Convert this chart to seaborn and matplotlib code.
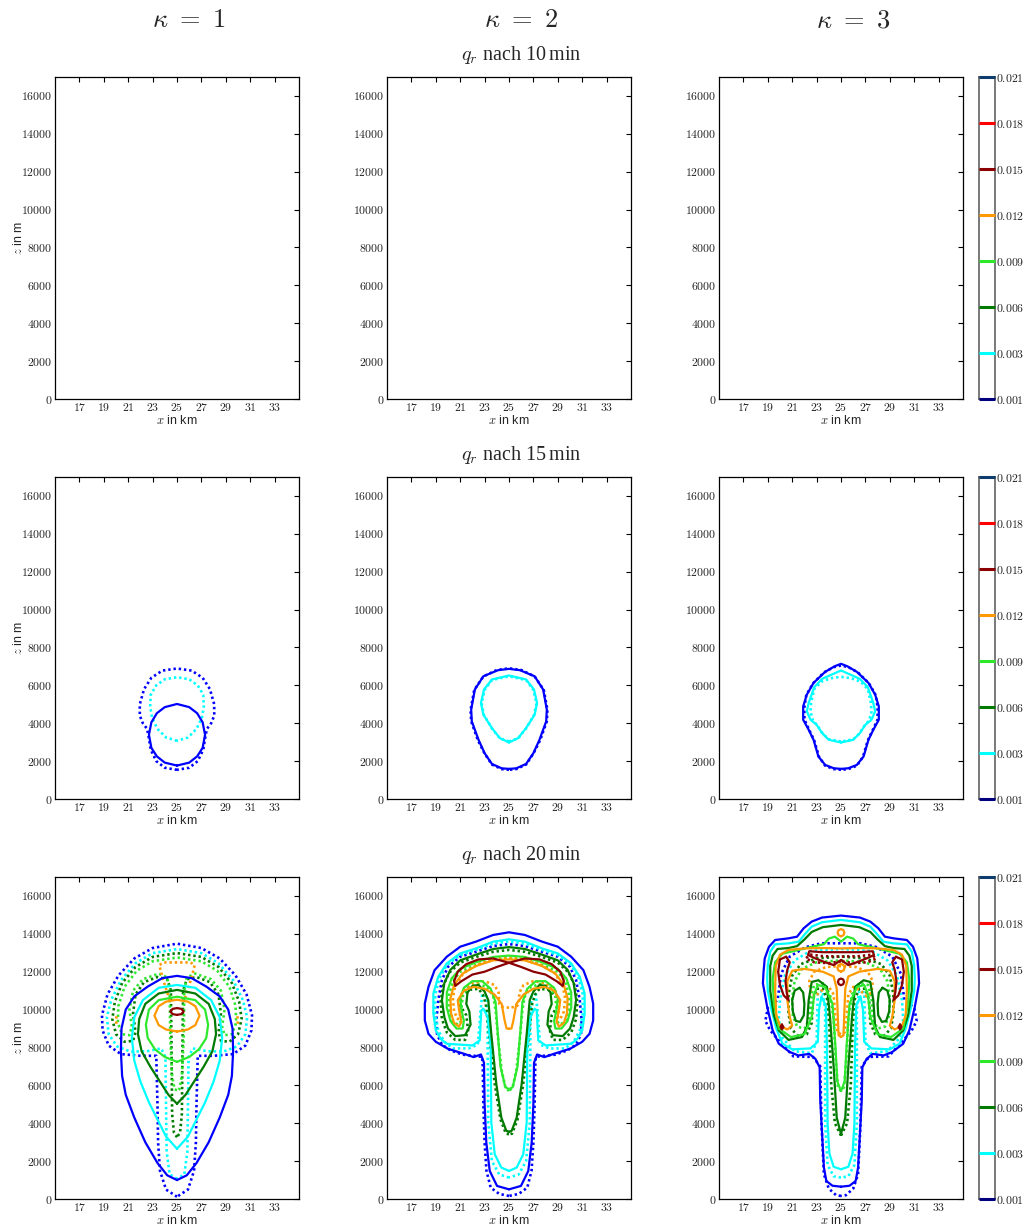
import numpy as np
import pandas as pd
import matplotlib
matplotlib.use("Agg")
import matplotlib.pyplot as plt
import seaborn as sns

# ---------------------------------------------------------------- data
LEVELS = [0.001, 0.003, 0.006, 0.009, 0.012, 0.015, 0.018, 0.021]
LEVEL_COLORS = ['#0000ff', '#00ffff', '#007a00', '#2ee82e', '#ff9900', '#8b0000', '#ff0000', '#13294b']
CBAR_COLORS = ['#00007f', '#00ffff', '#007a00', '#2ee82e', '#ff9900', '#8b0000', '#ff0000', '#0d3d6e']
KAPPAS = [1, 2, 3]
MINUTES = [10, 15, 20]
X_TICKS = [17, 19, 21, 23, 25, 27, 29, 31, 33]
Y_TICKS = [0, 2000, 4000, 6000, 8000, 10000, 12000, 14000, 16000]
X_RANGE = (15, 35)
Z_RANGE = (0, 17000)
CENTER_X = 25

# contour outlines: (offset from x=25 in km, z in m)
# ---- 15 min, kappa = 1
K1_15_SOLID_BLUE = [(0, 5017), (1.0, 4850), (1.65, 4530), (2.1, 4050), (2.3, 3390), (2.1, 2700), (1.65, 2250), (1.0, 1920), (0, 1766)]
K1_15_DOT_CYAN = [(0, 6430), (1.0, 6320), (1.7, 6000), (2.15, 5500), (2.2, 4900), (2.05, 4300), (1.6, 3700), (0.9, 3250), (0, 3070)]
K1_15_DOT_BLUE = [(0, 6890), (1.2, 6780), (2.1, 6400), (2.7, 5800), (3.05, 5000), (3.05, 4400), (2.8, 4000), (2.45, 3700), (2.3, 3200), (2.15, 2600), (1.7, 2000), (1.0, 1650), (0, 1540)]
# ---- 15 min, kappa = 2
K2_15_SOLID_BLUE = [(0, 6870), (0.9, 6800), (2.1, 6480), (2.8, 5780), (3.1, 4720), (3.05, 4100), (2.5, 3130), (2.0, 2420), (1.4, 1850), (0.6, 1620), (0, 1590)]
K2_15_DOT_BLUE = [(0, 6900), (1.0, 6810), (2.1, 6470), (2.85, 5760), (3.15, 4700), (3.1, 4100), (2.55, 3100), (2.0, 2400), (1.4, 1820), (0.6, 1580), (0, 1540)]
K2_15_SOLID_CYAN = [(0, 6520), (1.4, 6310), (2.05, 5780), (2.3, 5070), (2.1, 4450), (1.4, 3745), (0.75, 3215), (0, 2985)]
K2_15_DOT_CYAN = [(0, 6480), (1.4, 6280), (2.0, 5760), (2.25, 5050), (2.05, 4430), (1.4, 3730), (0.75, 3200), (0, 3040)]
# ---- 15 min, kappa = 3
K3_15_SOLID_BLUE = [(0, 7137), (0.5, 7013), (1.3, 6713), (2.25, 6130), (2.8, 5510), (3.1, 4893), (3.1, 4186), (2.65, 3656), (2.25, 3126), (1.85, 2243), (1.3, 1800), (0.6, 1624), (0, 1590)]
K3_15_DOT_BLUE = [(0, 7050), (0.6, 6960), (1.4, 6680), (2.3, 6100), (2.85, 5480), (3.0, 4850), (3.0, 4200), (2.6, 3640), (2.2, 3100), (1.8, 2220), (1.3, 1760), (0.6, 1580), (0, 1540)]
K3_15_SOLID_CYAN = [(0, 6784), (0.75, 6572), (1.55, 6342), (2.2, 5900), (2.65, 5070), (2.8, 4627), (2.5, 4186), (2.0, 3921), (1.55, 3480), (1.0, 3126), (0, 2985)]
K3_15_DOT_CYAN = [(0, 6450), (0.8, 6380), (1.6, 6200), (2.2, 5800), (2.45, 5070), (2.5, 4600), (2.3, 4150), (1.9, 3850), (1.5, 3450), (1.0, 3150), (0, 3030)]

# ---- 20 min, kappa = 1
K1_20_SOLID_BLUE = [(0, 11780), (1.2, 11660), (2.4, 11215), (3.5, 10700), (4.2, 10000), (4.55, 9000), (4.6, 7800), (4.5, 6500), (4.2, 5500), (3.5, 4300), (2.6, 3000), (1.6, 1900), (0.8, 1250), (0, 1000)]
K1_20_SOLID_CYAN = [(0, 11300), (1.5, 11150), (2.8, 10500), (3.5, 9600), (3.7, 8500), (3.5, 7300), (3.0, 6200), (2.3, 5100), (1.6, 4200), (0.9, 3300), (0, 2650)]
K1_20_SOLID_DKGREEN = [(0, 11040), (1.5, 10850), (2.6, 10300), (3.1, 9500), (3.2, 8700), (2.9, 7800), (2.2, 7000), (1.4, 6200), (0.7, 5500), (0, 5030)]
K1_20_SOLID_LIME = [(0, 10680), (1.5, 10500), (2.3, 10000), (2.55, 9200), (2.4, 8500), (1.8, 7900), (1.0, 7500), (0, 7240)]
K1_20_SOLID_ORANGE = [(0, 10520), (0.9, 10420), (1.5, 10180), (1.85, 9680), (1.5, 9180), (0.9, 8950), (0, 8840)]
K1_20_SOLID_DKRED = [(0, 10080), (0.35, 10040), (0.55, 9900), (0.35, 9760), (0, 9720)]
K1_20_DOT_BLUE = [(0, 13480), (2.0, 13250), (3.5, 12700), (4.8, 11800), (5.7, 10800), (6.15, 9700), (6.1, 8900), (5.6, 8100), (4.6, 7650), (3.0, 7560), (1.7, 7560), (1.6, 5000), (1.55, 3000), (1.4, 1500), (0.9, 500), (0, 120)]
K1_20_DOT_CYAN = [(0, 13195), (2.0, 12980), (3.4, 12450), (4.6, 11550), (5.4, 10500), (5.75, 9600), (5.6, 8700), (4.9, 8050), (3.8, 7780), (2.5, 7800), (1.3, 7950), (0.95, 7500), (0.9, 5000), (0.85, 2500), (0.6, 1300), (0, 1060)]
K1_20_DOT_DKGREEN = [(0, 12983), (2.0, 12780), (3.4, 12250), (4.5, 11400), (5.1, 10400), (5.3, 9500), (5.0, 8700), (4.3, 8300), (3.6, 8350), (3.4, 8800), (3.6, 9800), (3.4, 10800), (2.7, 11450), (1.6, 11720), (0.8, 11600), (0.5, 11000), (0.45, 8000), (0.4, 4500), (0.25, 3500), (0, 3260)]
K1_20_DOT_LIME = [(0, 12750), (2.0, 12550), (3.3, 12050), (4.3, 11200), (4.8, 10200), (4.85, 9300), (4.5, 8700), (3.9, 8650), (3.7, 9100), (3.9, 10000), (3.6, 11000), (2.8, 11600), (1.5, 11900), (0.8, 11700), (0.6, 11000), (0.55, 8500), (0.4, 6500), (0.2, 5800), (0, 5740)]
K1_20_DOT_ORANGE = [(0, 12490), (1.1, 12490), (1.45, 12350), (1.2, 11700), (0.85, 11000), (0.6, 10500)]
K1_20_DOT_ORANGE_SIDE = [(4.95, 9650), (5.0, 9420), (4.95, 9200)]

# ---- 20 min, kappa = 2
K2_20_SOLID_BLUE = [(0, 14080), (1.3, 13940), (2.7, 13590), (4.0, 13320), (5.1, 12790), (6.1, 12080), (6.6, 11200), (6.9, 10320), (6.9, 9430), (6.6, 8720), (6.0, 8300), (5.0, 7930), (3.7, 7670), (2.9, 7490), (2.3, 7630), (2.05, 7190), (2.0, 5020), (1.86, 2980), (1.58, 1480), (0.98, 690), (0, 510)]
K2_20_SOLID_CYAN = [(0, 13710), (1.3, 13586), (2.7, 13230), (4.0, 12967), (5.1, 12437), (5.8, 11730), (6.2, 10850), (6.2, 9786), (6.0, 8900), (5.6, 8450), (5.1, 8196), (3.0, 8108), (2.4, 8373), (2.27, 9963), (2.1, 10050), (1.75, 9610), (1.5, 8020), (1.45, 4044), (1.17, 2365), (0.63, 1660), (0, 1480)]
K2_20_SOLID_DKGREEN = [(0, 13300), (1.3, 13200), (2.7, 12900), (4.0, 12600), (4.8, 12100), (5.3, 11400), (5.5, 10500), (5.3, 9600), (5.0, 9000), (4.4, 8600), (3.6, 8650), (3.15, 9200), (3.25, 9900), (3.5, 10300), (3.4, 10900), (3.0, 11250), (2.5, 11300), (2.0, 10950), (1.7, 10500), (1.45, 8700), (1.04, 6075), (0.63, 4300), (0.22, 3600), (0, 3550)]
K2_20_SOLID_LIME = [(0, 12850), (1.3, 12780), (2.7, 12500), (4.0, 12150), (4.7, 11650), (5.1, 10900), (5.1, 10100), (4.8, 9400), (4.3, 9000), (3.8, 9000), (3.7, 9400), (3.9, 10000), (4.0, 10600), (3.7, 11150), (3.0, 11500), (2.2, 11500), (1.5, 11100), (1.1, 10400), (0.95, 9000), (0.7, 7000), (0.3, 5900), (0, 5800)]
K2_20_SOLID_ORANGE = [(0, 12650), (1.3, 12600), (2.7, 12300), (3.8, 11900), (4.5, 11300), (4.8, 10600), (4.75, 9800), (4.5, 9300), (4.1, 9100), (3.9, 9350), (4.1, 10000), (4.2, 10500), (3.7, 11000), (2.9, 11200), (2.0, 11100), (1.2, 10800), (0.6, 10300), (0.35, 9400), (0.2, 9000), (0, 8990)]
K2_20_SOLID_DKRED = [(0, 12470), (1.3, 12700), (2.5, 12650), (3.5, 12400), (4.2, 12000), (4.5, 11500), (4.4, 11250), (3.9, 11500), (3.0, 11850), (2.0, 12000), (1.0, 12250), (0, 12470)]
K2_20_DOT_BLUE = [(0, 13460), (1.3, 13356), (2.7, 13055), (4.0, 12790), (5.0, 12260), (5.5, 11553), (5.8, 10493), (5.95, 9433), (5.9, 8700), (5.5, 8150), (4.8, 7850), (3.8, 7620), (2.7, 7550), (2.2, 7500), (2.15, 7000), (2.1, 5000), (2.0, 3000), (1.85, 1500), (1.5, 600), (0.8, 270), (0, 160)]
K2_20_DOT_CYAN = [(0, 13600), (1.3, 13480), (2.7, 13150), (4.0, 12880), (5.1, 12350), (5.7, 11650), (6.05, 10800), (6.05, 9800), (5.8, 8900), (5.3, 8300), (4.6, 7950), (3.3, 7950), (2.55, 8150), (2.35, 9800), (2.2, 10800), (1.85, 10700), (1.75, 9800), (1.75, 8000), (1.7, 4000), (1.4, 2000), (0.8, 1300), (0, 1130)]
K2_20_DOT_DKGREEN = [(0, 13150), (1.3, 13050), (2.7, 12780), (4.0, 12480), (4.9, 11950), (5.4, 11250), (5.6, 10400), (5.5, 9500), (5.1, 8800), (4.4, 8400), (3.6, 8400), (3.35, 8900), (3.5, 9700), (4.0, 10200), (3.9, 10700), (3.2, 11050), (2.5, 11100), (2.15, 10800), (1.9, 10300), (1.6, 8500), (1.15, 6000), (0.7, 4200), (0.25, 3450), (0, 3420)]
K2_20_DOT_LIME = [(0, 12700), (1.3, 12620), (2.7, 12350), (4.0, 12000), (4.6, 11500), (4.9, 10800), (4.9, 10000), (4.6, 9400), (4.2, 9200), (3.9, 9400), (3.9, 10000), (3.8, 10700), (3.4, 11150), (2.6, 11350), (1.8, 11200), (1.3, 10700), (1.1, 10000), (0.9, 8500), (0.6, 6800), (0.3, 5900), (0, 5700)]
K2_20_DOT_ORANGE = [(0, 12750), (1.0, 12700), (2.5, 12400), (3.7, 11950), (4.4, 11300), (4.6, 10600), (4.5, 9900), (4.2, 9500), (4.0, 9600), (4.1, 10300), (3.8, 11000), (3.0, 11400), (2.0, 11500), (1.2, 11300), (0.85, 10900), (0.8, 10300), (0.6, 10150), (0, 10100)]

# ---- 20 min, kappa = 3
K3_20_SOLID_BLUE = [(0, 14964), (1.56, 14858), (2.4, 14646), (3.06, 14292), (3.6, 13850), (4.3, 13762), (5.4, 13674), (5.9, 13320), (6.25, 12702), (6.35, 11995), (6.4, 11380), (6.05, 10140), (5.6, 8900), (5.1, 8200), (4.2, 7760), (3.5, 7580), (2.6, 7660), (2.1, 7400), (1.75, 6950), (1.7, 5200), (1.55, 3430), (1.4, 1660), (1.2, 950), (0.7, 700), (0, 650)]
K3_20_SOLID_CYAN = [(0, 14734), (1.56, 14610), (2.4, 14380), (2.9, 14027), (3.47, 13585), (4.3, 13497), (5.4, 13444), (5.8, 13055), (6.0, 12348), (6.05, 11642), (6.0, 11000), (5.7, 10000), (5.3, 9000), (4.8, 8200), (4.0, 7900), (2.5, 7950), (1.9, 8300), (1.8, 10000), (1.6, 10700), (1.25, 10200), (1.15, 8000), (1.1, 4000), (0.95, 2400), (0.6, 1700), (0, 1570)]
K3_20_SOLID_DKGREEN = [(0, 14469), (1.5, 14350), (2.4, 14100), (3.0, 13700), (3.6, 13350), (4.3, 13250), (5.2, 13200), (5.6, 12850), (5.8, 12300), (5.8, 11000), (5.5, 9700), (5.1, 8900), (4.3, 8400), (3.2, 8550), (2.8, 9080), (2.65, 10490), (2.4, 11460), (1.85, 11550), (1.15, 11200), (0.9, 9600), (0.6, 6960), (0.35, 4300), (0, 3430)]
K3_20_SOLID_DKGREEN_EYE = [(3.4, 11150), (3.8, 11000), (4.0, 10500), (3.95, 9900), (3.7, 9400), (3.35, 9350), (3.05, 9700), (3.0, 10300), (3.1, 10900), (3.4, 11150)]
K3_20_SOLID_LIME = [(0, 13590), (0.5, 13850), (1.0, 13750), (1.4, 13450), (2.5, 13300), (3.8, 13100), (4.8, 12950), (5.4, 12500), (5.6, 11600), (5.5, 10300), (5.1, 9000), (4.1, 8550), (3.0, 8700), (2.4, 9600), (2.2, 10800), (1.9, 11300), (1.3, 11200), (0.7, 10300), (0.45, 8000), (0.3, 6200), (0, 5700)]
K3_20_SOLID_ORANGE = [(0, 13230), (1.5, 13250), (3.0, 13230), (4.3, 13150), (5.0, 12900), (5.35, 12300), (5.4, 11000), (5.3, 9700), (5.0, 9150), (4.4, 8950), (4.0, 9150), (4.2, 9600), (4.4, 10500), (4.4, 11500), (4.0, 12050), (3.0, 12150), (1.5, 12000), (0.6, 11750), (0.35, 11100), (0.2, 8640), (0, 8550)]
K3_20_SOLID_ORANGE_TOP = [(0, 14250), (0.2, 14195), (0.28, 14060), (0.2, 13925), (0, 13870)]
K3_20_SOLID_ORANGE_MID = [(0, 12410), (0.21, 12350), (0.3, 12207), (0.21, 12065), (0, 12005)]
K3_20_SOLID_DKRED_BAND = [(0, 13030), (1.5, 13030), (2.6, 13080), (2.7, 12880), (2.1, 12700), (1.3, 12500), (0.6, 12350), (0, 12620)]
K3_20_SOLID_DKRED_RING = [(0, 11640), (0.18, 11590), (0.25, 11465), (0.18, 11340), (0, 11290)]
K3_20_SOLID_DKRED_EAR = [(4.5, 12790), (5.0, 12650), (5.15, 12000), (5.0, 11300), (4.7, 10750), (4.3, 10500), (4.45, 10900), (4.55, 11500), (4.4, 12100), (4.2, 12500), (4.5, 12790)]
K3_20_SOLID_DKRED_DOT = [(4.84, 9210), (4.96, 9080), (4.84, 8950), (4.72, 9080), (4.84, 9210)]
K3_20_DOT_BLUE = [(0, 13500), (1.6, 13500), (2.9, 13300), (4.2, 12800), (4.9, 11900), (5.2, 10500), (6.0, 10100), (6.2, 9400), (5.8, 8900), (5.0, 8300), (3.9, 7530), (2.3, 7500), (1.7, 7000), (1.6, 4000), (1.4, 1300), (1.0, 550), (0.4, 200), (0, 160)]
K3_20_DOT_CYAN = [(0, 13200), (2.5, 13100), (3.8, 12600), (4.6, 11800), (5.0, 10500), (5.1, 9500), (4.8, 8500), (3.8, 7800), (2.4, 7700), (2.0, 8300), (1.9, 10900), (1.5, 11000), (1.3, 10000), (1.3, 4000), (1.1, 1800), (0.6, 1200), (0, 1130)]
K3_20_DOT_DKGREEN = [(0, 12800), (2.0, 12700), (3.3, 12400), (4.0, 11800), (4.3, 10800), (4.3, 9800), (4.1, 9000), (3.5, 8600), (2.8, 8700), (2.4, 9300), (2.3, 10500), (2.0, 11100), (1.5, 11100), (1.1, 10500), (0.95, 9000), (0.8, 6000), (0.5, 4000), (0, 3350)]
K3_20_DOT_LIME = [(0, 12600), (2.0, 12500), (3.2, 12150), (3.8, 11500), (4.0, 10600), (3.95, 9700), (3.6, 9100), (3.0, 9000), (2.6, 9500), (2.5, 10600), (2.2, 11300), (1.5, 11400), (0.9, 10800), (0.6, 9500), (0.45, 7500), (0.25, 5900), (0, 5700)]
K3_20_DOT_ORANGE = [(0, 12300), (1.2, 12250), (2.2, 12000), (2.6, 11500), (2.5, 10900), (2.1, 10700), (1.6, 11000), (1.0, 11200), (0.6, 10800), (0.45, 9500), (0.3, 8800), (0, 8700)]
K3_20_DOT_DKRED = [(0, 12800), (1.5, 12820), (2.5, 12900), (2.9, 12700), (2.2, 12500), (1.0, 12450), (0, 12550)]

# (outline, level index, line style, symmetry mode) for each panel (row, column)
PANELS = {
    (1, 0): [(K1_15_DOT_BLUE, 0, 'dot', 'sym'), (K1_15_DOT_CYAN, 1, 'dot', 'sym'), (K1_15_SOLID_BLUE, 0, 'solid', 'sym')],
    (1, 1): [(K2_15_DOT_BLUE, 0, 'dot', 'sym'), (K2_15_DOT_CYAN, 1, 'dot', 'sym'),
             (K2_15_SOLID_BLUE, 0, 'solid', 'sym'), (K2_15_SOLID_CYAN, 1, 'solid', 'sym')],
    (1, 2): [(K3_15_DOT_BLUE, 0, 'dot', 'sym'), (K3_15_DOT_CYAN, 1, 'dot', 'sym'),
             (K3_15_SOLID_BLUE, 0, 'solid', 'sym'), (K3_15_SOLID_CYAN, 1, 'solid', 'sym')],
    (2, 0): [(K1_20_DOT_BLUE, 0, 'dot', 'sym'), (K1_20_DOT_CYAN, 1, 'dot', 'sym'),
             (K1_20_DOT_DKGREEN, 2, 'dot', 'sym'), (K1_20_DOT_LIME, 3, 'dot', 'sym'),
             (K1_20_DOT_ORANGE, 4, 'dot', 'sym'), (K1_20_DOT_ORANGE_SIDE, 4, 'dot', 'pair'),
             (K1_20_SOLID_BLUE, 0, 'solid', 'sym'), (K1_20_SOLID_CYAN, 1, 'solid', 'sym'),
             (K1_20_SOLID_DKGREEN, 2, 'solid', 'sym'), (K1_20_SOLID_LIME, 3, 'solid', 'sym'),
             (K1_20_SOLID_ORANGE, 4, 'solid', 'sym'), (K1_20_SOLID_DKRED, 5, 'solid', 'sym')],
    (2, 1): [(K2_20_DOT_BLUE, 0, 'dot', 'sym'), (K2_20_DOT_CYAN, 1, 'dot', 'sym'),
             (K2_20_DOT_DKGREEN, 2, 'dot', 'sym'), (K2_20_DOT_LIME, 3, 'dot', 'sym'),
             (K2_20_DOT_ORANGE, 4, 'dot', 'sym'),
             (K2_20_SOLID_BLUE, 0, 'solid', 'sym'), (K2_20_SOLID_CYAN, 1, 'solid', 'sym'),
             (K2_20_SOLID_DKGREEN, 2, 'solid', 'sym'), (K2_20_SOLID_LIME, 3, 'solid', 'sym'),
             (K2_20_SOLID_ORANGE, 4, 'solid', 'sym'), (K2_20_SOLID_DKRED, 5, 'solid', 'pair')],
    (2, 2): [(K3_20_DOT_BLUE, 0, 'dot', 'sym'), (K3_20_DOT_CYAN, 1, 'dot', 'sym'),
             (K3_20_DOT_DKGREEN, 2, 'dot', 'sym'), (K3_20_DOT_LIME, 3, 'dot', 'sym'),
             (K3_20_DOT_ORANGE, 4, 'dot', 'sym'), (K3_20_DOT_DKRED, 5, 'dot', 'sym'),
             (K3_20_SOLID_BLUE, 0, 'solid', 'sym'), (K3_20_SOLID_CYAN, 1, 'solid', 'sym'),
             (K3_20_SOLID_DKGREEN, 2, 'solid', 'sym'), (K3_20_SOLID_DKGREEN_EYE, 2, 'solid', 'pair'),
             (K3_20_SOLID_LIME, 3, 'solid', 'sym'), (K3_20_SOLID_ORANGE, 4, 'solid', 'sym'),
             (K3_20_SOLID_ORANGE_TOP, 4, 'solid', 'sym'), (K3_20_SOLID_ORANGE_MID, 4, 'solid', 'sym'),
             (K3_20_SOLID_DKRED_BAND, 5, 'solid', 'sym'), (K3_20_SOLID_DKRED_RING, 5, 'solid', 'sym'),
             (K3_20_SOLID_DKRED_EAR, 5, 'solid', 'pair'), (K3_20_SOLID_DKRED_DOT, 5, 'solid', 'pair')],
}

# ---------------------------------------------------------------- style
sns.set_style("white")
plt.rcParams['font.family'] = ['Liberation Sans', 'DejaVu Sans']
plt.rcParams['mathtext.fontset'] = 'cm'
plt.rcParams['axes.linewidth'] = 0.9

W, H = 1029, 1226
fig = plt.figure(figsize=(W / 100, H / 100), dpi=100)
fig.patch.set_facecolor('white')

COL_LEFT = [55, 387, 719]
ROW_TOP = [77, 477, 877]
AX_W, AX_H = 244, 322
CBAR_LEFT, CBAR_W = 979, 16


def fig_rect(left, top, w, h):
    return [left / W, 1 - (top + h) / H, w / W, h / H]


def draw_outline(ax, pts, level, style, mode):
    dx = np.array([p[0] for p in pts], dtype=float)
    z = np.array([p[1] for p in pts], dtype=float)
    if mode == 'sym':
        segs = [(np.concatenate([CENTER_X - dx[::-1], CENTER_X + dx[1:]]),
                 np.concatenate([z[::-1], z[1:]]))]
    else:
        segs = [(CENTER_X + dx, z), (CENTER_X - dx, z)]
    for xs, zs in segs:
        df = pd.DataFrame({'x': xs, 'z': zs})
        if style == 'solid':
            sns.lineplot(data=df, x='x', y='z', sort=False, estimator=None, ax=ax,
                         color=LEVEL_COLORS[level], linewidth=1.6, legend=False,
                         solid_joinstyle='round')
        else:
            sns.lineplot(data=df, x='x', y='z', sort=False, estimator=None, ax=ax,
                         color=LEVEL_COLORS[level], linewidth=1.9, legend=False,
                         linestyle=(0, (0.9, 1.1)))


for r in range(3):
    for c in range(3):
        ax = fig.add_axes(fig_rect(COL_LEFT[c], ROW_TOP[r], AX_W, AX_H))
        ax.set_facecolor('white')
        for item in PANELS.get((r, c), []):
            draw_outline(ax, *item)
        ax.set_xlim(*X_RANGE)
        ax.set_ylim(*Z_RANGE)
        ax.set_xticks(X_TICKS)
        ax.set_xticklabels([f'${t}$' for t in X_TICKS])
        ax.set_yticks(Y_TICKS)
        ax.set_yticklabels([f'${t}$' for t in Y_TICKS])
        ax.tick_params(direction='in', top=True, right=True, length=3.5, width=0.8,
                       labelsize=8.5, pad=2, colors='black', labelcolor='#222222')
        for s in ax.spines.values():
            s.set_color('black')
            s.set_linewidth(0.9)
        ax.set_xlabel(r'$x$ in km', fontsize=9, labelpad=0)
        if c == 0:
            ax.set_ylabel(r'$z$ in m', fontsize=9, labelpad=-3)
        else:
            ax.set_ylabel('')

    # colour bar of the contour levels
    cax = fig.add_axes(fig_rect(CBAR_LEFT, ROW_TOP[r], CBAR_W, AX_H))
    cax.set_facecolor('white')
    pos = list(range(len(LEVELS)))
    cax.hlines(pos, 0, 1, colors=CBAR_COLORS, linewidth=2.2, clip_on=False, zorder=3)
    cax.set_xlim(0, 1)
    cax.set_ylim(pos[0], pos[-1])
    cax.set_xticks([])
    cax.yaxis.tick_right()
    cax.set_yticks(pos)
    cax.set_yticklabels([f'${v:.3f}$' for v in LEVELS])
    cax.tick_params(axis='y', direction='in', length=0, labelsize=8.5, pad=1, labelcolor='#222222')
    for s in cax.spines.values():
        s.set_color('#555555')
        s.set_linewidth(1.1)

    # row title
    fig.text((COL_LEFT[1] + AX_W / 2 + 12) / W, 1 - (ROW_TOP[r] - 22) / H,
             rf'$q_r$ nach {MINUTES[r]}$\,$min', ha='center', va='center',
             fontsize=14.5, family=['Liberation Serif', 'DejaVu Serif'])

for c, k in enumerate(KAPPAS):
    fig.text((COL_LEFT[c] + AX_W / 2 + 12) / W, 1 - 20 / H, rf'$\kappa\ =\ {k}$',
             ha='center', va='center', fontsize=19)

fig.savefig('out.png', dpi=100, facecolor='white')
